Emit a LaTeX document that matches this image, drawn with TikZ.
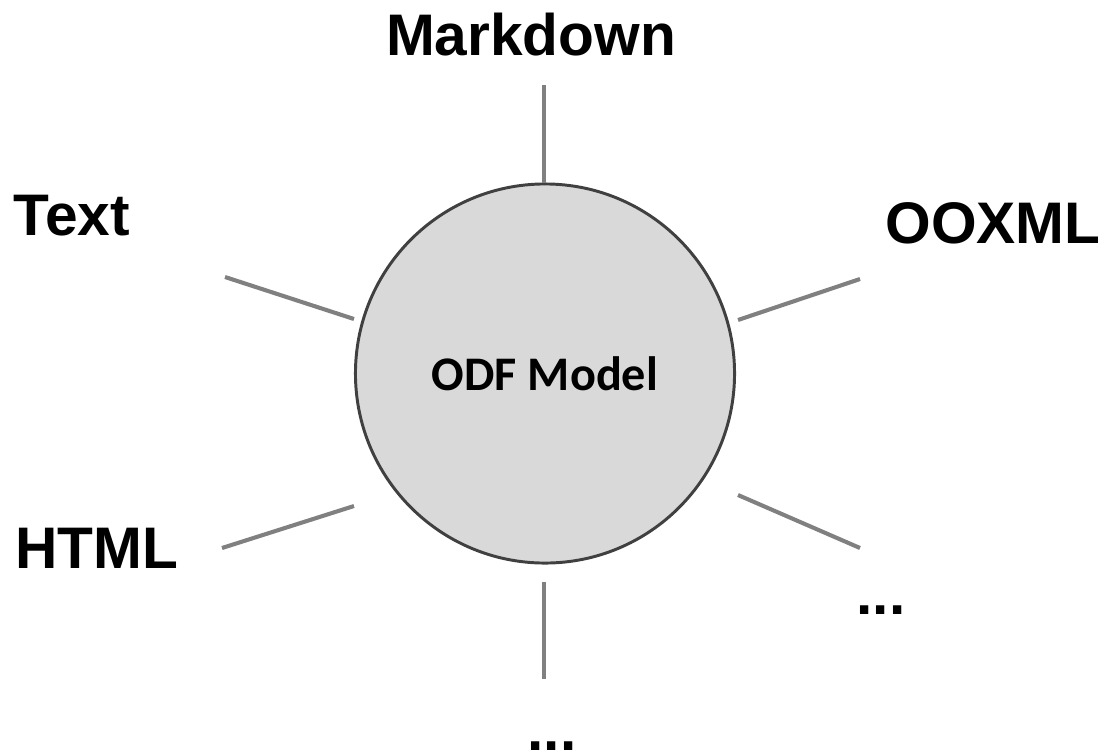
\documentclass[tikz,border=0pt]{standalone}
\usepackage{fontspec}
\setmainfont{Liberation Sans}
\newfontfamily\modelfont{Carlito}
\usetikzlibrary{positioning}
\definecolor{spokegray}{HTML}{808080}
\definecolor{modelfill}{HTML}{D9D9D9}
\definecolor{modeldraw}{HTML}{404040}

\begin{document}
\begin{tikzpicture}[x=0.025cm,y=-0.025cm]
	\useasboundingbox (0,0) rectangle (1103,752);
	\node[circle,draw=modeldraw,line width=2.1pt,fill=modelfill,minimum size=9.475cm,inner sep=0pt] (model) at (545,373.5)
		{\modelfont\bfseries\fontsize{34.3}{40}\selectfont ODF Model};
	
	\begin{scope}[every node/.style={anchor=base,inner sep=0pt,font=\bfseries\fontsize{41.7}{50}\selectfont}]
	\node at (531,55) (markdown){Markdown};
	\node at (72,235) (text){Text};
	\node at (993,243) (ooxml){OOXML};
	\node at (97,568) (html){HTML};
	\node at (881,614) (more1){...};
	\node at (552,750) (more2){...};
	\end{scope}
	
	% spoke ends
	\coordinate (mdin) at (544,183);  \coordinate (mdout) at (544,85);
	\coordinate (txin) at (354,319);  \coordinate (txout) at (225,277);
	\coordinate (oxin) at (738,320);  \coordinate (oxout) at (860,279);
	\coordinate (htin) at (354,506);  \coordinate (htout) at (222,548);
	\coordinate (m1in) at (738,495);  \coordinate (m1out) at (860,548);
	\coordinate (m2in) at (544,582);  \coordinate (m2out) at (544,679);
	
	\begin{scope}[spokegray,line width=2.9pt]
	\path (mdin) edge (mdout);
	\path (txin) edge (txout);
	\path (oxin) edge (oxout);
	\path (htin) edge (htout);
	\path (m1in) edge (m1out);
	\path (m2in) edge (m2out);
	\end{scope}
\end{tikzpicture}
\end{document}
